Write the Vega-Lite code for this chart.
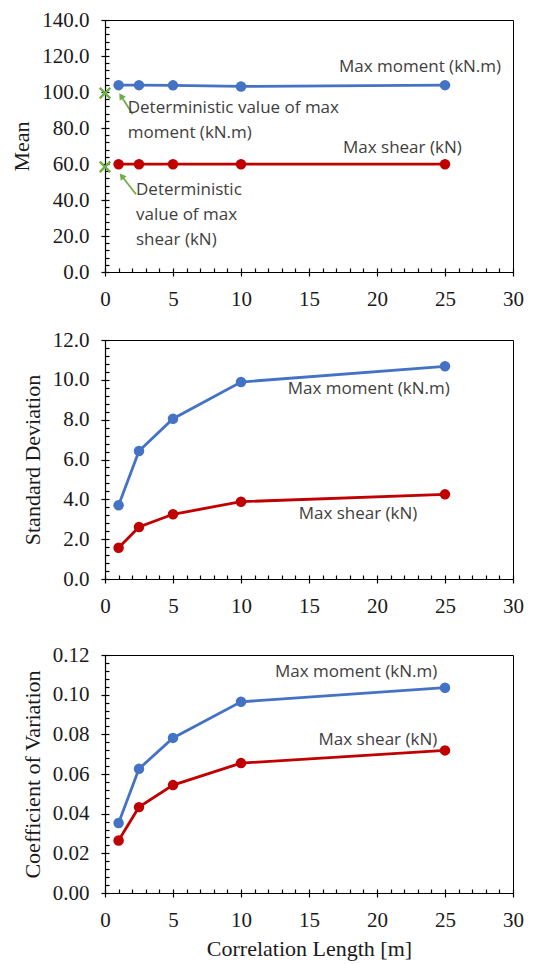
{
  "$schema": "https://vega.github.io/schema/vega-lite/v6.json",
  "background": "white",
  "padding": {"left": 10, "top": 8, "right": 5, "bottom": 4},
  "config": {
    "view": {"stroke": "#000000", "strokeWidth": 1},
    "axis": {
      "grid": false,
      "domainColor": "#000000",
      "domainWidth": 1.2,
      "tickColor": "#000000",
      "tickWidth": 1.2,
      "tickSize": 4,
      "labelFont": "Liberation Serif",
      "labelFontSize": 21,
      "labelColor": "#1a1a1a",
      "labelPadding": 12,
      "labelFlush": false,
      "labelOverlap": false,
      "titleFont": "Liberation Serif",
      "titleFontSize": 22,
      "titleFontWeight": "normal",
      "titleColor": "#1a1a1a",
      "titlePadding": 8
    }
  },
  "datasets": {
    "mean": [
      {"series": "Max moment (kN.m)", "length": 1, "value": 103.8},
      {"series": "Max moment (kN.m)", "length": 2.5, "value": 103.8},
      {"series": "Max moment (kN.m)", "length": 5, "value": 103.7},
      {"series": "Max moment (kN.m)", "length": 10, "value": 103.1},
      {"series": "Max moment (kN.m)", "length": 25, "value": 103.8},
      {"series": "Max shear (kN)", "length": 1, "value": 59.9},
      {"series": "Max shear (kN)", "length": 2.5, "value": 59.9},
      {"series": "Max shear (kN)", "length": 5, "value": 59.9},
      {"series": "Max shear (kN)", "length": 10, "value": 59.9},
      {"series": "Max shear (kN)", "length": 25, "value": 59.9}
    ],
    "deterministic": [
      {"series": "Max moment (kN.m)", "length": 0, "value": 99.4},
      {"series": "Max shear (kN)", "length": 0, "value": 58.4}
    ],
    "arrows": [
      {"tailX": 2.04, "tailY": 87.6, "tipX": 1.18, "tipY": 97.8, "angle": 327},
      {"tailX": 2.28, "tailY": 43.2, "tipX": 1.23, "tipY": 53.3, "angle": 322}
    ],
    "meanLabels": [
      {"x": 17.2, "y": 114, "text": "Max moment (kN.m)"},
      {"x": 17.5, "y": 69, "text": "Max shear (kN)"},
      {"x": 1.67, "y": 90.9, "text": "Deterministic value of max"},
      {"x": 1.67, "y": 77, "text": "moment (kN.m)"},
      {"x": 2.28, "y": 45.6, "text": "Deterministic"},
      {"x": 2.28, "y": 31.7, "text": "value of max"},
      {"x": 2.28, "y": 17.8, "text": "shear (kN)"}
    ],
    "sd": [
      {"series": "Max moment (kN.m)", "length": 1, "value": 3.70},
      {"series": "Max moment (kN.m)", "length": 2.5, "value": 6.43},
      {"series": "Max moment (kN.m)", "length": 5, "value": 8.05},
      {"series": "Max moment (kN.m)", "length": 10, "value": 9.89},
      {"series": "Max moment (kN.m)", "length": 25, "value": 10.68},
      {"series": "Max shear (kN)", "length": 1, "value": 1.57},
      {"series": "Max shear (kN)", "length": 2.5, "value": 2.61},
      {"series": "Max shear (kN)", "length": 5, "value": 3.25},
      {"series": "Max shear (kN)", "length": 10, "value": 3.88},
      {"series": "Max shear (kN)", "length": 25, "value": 4.25}
    ],
    "sdLabels": [
      {"x": 13.43, "y": 9.55, "text": "Max moment (kN.m)"},
      {"x": 14.24, "y": 3.25, "text": "Max shear (kN)"}
    ],
    "cov": [
      {"series": "Max moment (kN.m)", "length": 1, "value": 0.0353},
      {"series": "Max moment (kN.m)", "length": 2.5, "value": 0.0626},
      {"series": "Max moment (kN.m)", "length": 5, "value": 0.0782},
      {"series": "Max moment (kN.m)", "length": 10, "value": 0.0964},
      {"series": "Max moment (kN.m)", "length": 25, "value": 0.1035},
      {"series": "Max shear (kN)", "length": 1, "value": 0.0265},
      {"series": "Max shear (kN)", "length": 2.5, "value": 0.0433},
      {"series": "Max shear (kN)", "length": 5, "value": 0.0544},
      {"series": "Max shear (kN)", "length": 10, "value": 0.0655},
      {"series": "Max shear (kN)", "length": 25, "value": 0.0719}
    ],
    "covLabels": [
      {"x": 12.5, "y": 0.1114, "text": "Max moment (kN.m)"},
      {"x": 15.7, "y": 0.0769, "text": "Max shear (kN)"}
    ]
  },
  "spacing": 26,
  "vconcat": [
    {
      "spacing": 18,
      "vconcat": [
        {
          "width": 408,
          "height": 252,
          "resolve": {"axis": {"x": "independent", "y": "independent"}},
          "layer": [
            {
              "data": {"name": "mean"},
              "mark": {"type": "line", "strokeWidth": 2.8},
              "encoding": {
                "x": {"field": "length", "type": "quantitative", "scale": {"domain": [0, 30], "nice": false},
                      "axis": {"orient": "bottom", "values": [0, 5, 10, 15, 20, 25, 30], "title": null,
                               "labelFont": "Liberation Serif", "labelFontSize": 21}},
                "y": {"field": "value", "type": "quantitative", "scale": {"domain": [0, 140], "nice": false},
                      "axis": {"orient": "left", "values": [0, 20, 40, 60, 80, 100, 120, 140], "format": ".1f", "title": "Mean",
                               "labelFont": "Liberation Serif", "labelFontSize": 21}},
                "color": {"field": "series", "type": "nominal",
                          "scale": {"domain": ["Max moment (kN.m)", "Max shear (kN)"], "range": ["#4472C4", "#C00000"]},
                          "legend": null}
              }
            },
            {
              "data": {"name": "mean"},
              "mark": {"type": "point", "shape": "circle", "filled": true, "size": 110, "opacity": 1},
              "encoding": {
                "x": {"field": "length", "type": "quantitative", "axis": null},
                "y": {"field": "value", "type": "quantitative", "axis": null},
                "color": {"field": "series", "type": "nominal", "legend": null}
              }
            },
            {
              "data": {"name": "deterministic"},
              "mark": {"type": "point", "shape": "M-1,-1L1,1M1,-1L-1,1", "filled": false, "size": 110, "strokeWidth": 2.4, "color": "#70AD47", "opacity": 1},
              "encoding": {
                "x": {"field": "length", "type": "quantitative", "axis": null},
                "y": {"field": "value", "type": "quantitative", "axis": null}
              }
            },
            {
              "data": {"name": "arrows"},
              "mark": {"type": "rule", "color": "#70AD47", "strokeWidth": 1.8},
              "encoding": {
                "x": {"field": "tailX", "type": "quantitative", "axis": null},
                "y": {"field": "tailY", "type": "quantitative", "axis": null},
                "x2": {"field": "tipX"},
                "y2": {"field": "tipY"}
              }
            },
            {
              "data": {"name": "arrows"},
              "mark": {"type": "point", "shape": "triangle-up", "filled": true, "size": 55, "color": "#70AD47", "opacity": 1},
              "encoding": {
                "x": {"field": "tipX", "type": "quantitative", "axis": null},
                "y": {"field": "tipY", "type": "quantitative", "axis": null},
                "angle": {"field": "angle", "type": "quantitative", "scale": null}
              }
            },
            {
              "data": {"name": "meanLabels"},
              "mark": {"type": "text", "align": "left", "baseline": "middle", "font": "Open Sans", "fontSize": 17, "color": "#404040"},
              "encoding": {
                "x": {"field": "x", "type": "quantitative",
                      "axis": {"orient": "bottom", "values": [0,1,2,3,4,5,6,7,8,9,10,11,12,13,14,15,16,17,18,19,20,21,22,23,24,25,26,27,28,29,30],
                               "tickSize": -4, "labels": false, "domain": false, "title": null}},
                "y": {"field": "y", "type": "quantitative",
                      "axis": {"orient": "left", "values": [0,4,8,12,16,20,24,28,32,36,40,44,48,52,56,60,64,68,72,76,80,84,88,92,96,100,104,108,112,116,120,124,128,132,136,140],
                               "tickSize": -4, "labels": false, "domain": false, "title": null}},
                "text": {"field": "text", "type": "nominal"}
              }
            }
          ]
        },
        {
          "width": 408,
          "height": 239,
          "resolve": {"axis": {"x": "independent", "y": "independent"}},
          "layer": [
            {
              "data": {"name": "sd"},
              "mark": {"type": "line", "strokeWidth": 2.8},
              "encoding": {
                "x": {"field": "length", "type": "quantitative", "scale": {"domain": [0, 30], "nice": false},
                      "axis": {"orient": "bottom", "values": [0, 5, 10, 15, 20, 25, 30], "title": null,
                               "labelFont": "Liberation Serif", "labelFontSize": 21}},
                "y": {"field": "value", "type": "quantitative", "scale": {"domain": [0, 12], "nice": false},
                      "axis": {"orient": "left", "values": [0, 2, 4, 6, 8, 10, 12], "format": ".1f", "title": "Standard Deviation",
                               "labelFont": "Liberation Serif", "labelFontSize": 21}},
                "color": {"field": "series", "type": "nominal",
                          "scale": {"domain": ["Max moment (kN.m)", "Max shear (kN)"], "range": ["#4472C4", "#C00000"]},
                          "legend": null}
              }
            },
            {
              "data": {"name": "sd"},
              "mark": {"type": "point", "shape": "circle", "filled": true, "size": 110, "opacity": 1},
              "encoding": {
                "x": {"field": "length", "type": "quantitative", "axis": null},
                "y": {"field": "value", "type": "quantitative", "axis": null},
                "color": {"field": "series", "type": "nominal", "legend": null}
              }
            },
            {
              "data": {"name": "sdLabels"},
              "mark": {"type": "text", "align": "left", "baseline": "middle", "font": "Open Sans", "fontSize": 17, "color": "#404040"},
              "encoding": {
                "x": {"field": "x", "type": "quantitative",
                      "axis": {"orient": "bottom", "values": [0,1,2,3,4,5,6,7,8,9,10,11,12,13,14,15,16,17,18,19,20,21,22,23,24,25,26,27,28,29,30],
                               "tickSize": -4, "labels": false, "domain": false, "title": null}},
                "y": {"field": "y", "type": "quantitative",
                      "axis": {"orient": "left", "values": [0,0.4,0.8,1.2,1.6,2,2.4,2.8,3.2,3.6,4,4.4,4.8,5.2,5.6,6,6.4,6.8,7.2,7.6,8,8.4,8.8,9.2,9.6,10,10.4,10.8,11.2,11.6,12],
                               "tickSize": -4, "labels": false, "domain": false, "title": null}},
                "text": {"field": "text", "type": "nominal"}
              }
            }
          ]
        }
      ]
    },
    {
      "width": 408,
      "height": 238,
      "resolve": {"axis": {"x": "independent", "y": "independent"}},
      "layer": [
        {
          "data": {"name": "cov"},
          "mark": {"type": "line", "strokeWidth": 2.8},
          "encoding": {
            "x": {"field": "length", "type": "quantitative", "scale": {"domain": [0, 30], "nice": false},
                  "axis": {"orient": "bottom", "values": [0, 5, 10, 15, 20, 25, 30], "title": "Correlation Length [m]",
                           "labelFont": "Liberation Serif", "labelFontSize": 21}},
            "y": {"field": "value", "type": "quantitative", "scale": {"domain": [0, 0.12], "nice": false},
                  "axis": {"orient": "left", "values": [0, 0.02, 0.04, 0.06, 0.08, 0.1, 0.12], "format": ".2f", "title": "Coefficient of Variation",
                           "labelFont": "Liberation Serif", "labelFontSize": 21}},
            "color": {"field": "series", "type": "nominal",
                      "scale": {"domain": ["Max moment (kN.m)", "Max shear (kN)"], "range": ["#4472C4", "#C00000"]},
                      "legend": null}
          }
        },
        {
          "data": {"name": "cov"},
          "mark": {"type": "point", "shape": "circle", "filled": true, "size": 110, "opacity": 1},
          "encoding": {
            "x": {"field": "length", "type": "quantitative", "axis": null},
            "y": {"field": "value", "type": "quantitative", "axis": null},
            "color": {"field": "series", "type": "nominal", "legend": null}
          }
        },
        {
          "data": {"name": "covLabels"},
          "mark": {"type": "text", "align": "left", "baseline": "middle", "font": "Open Sans", "fontSize": 17, "color": "#404040"},
          "encoding": {
            "x": {"field": "x", "type": "quantitative",
                  "axis": {"orient": "bottom", "values": [0,1,2,3,4,5,6,7,8,9,10,11,12,13,14,15,16,17,18,19,20,21,22,23,24,25,26,27,28,29,30],
                           "tickSize": -4, "labels": false, "domain": false, "title": null}},
            "y": {"field": "y", "type": "quantitative",
                  "axis": {"orient": "left", "values": [0,0.004,0.008,0.012,0.016,0.02,0.024,0.028,0.032,0.036,0.04,0.044,0.048,0.052,0.056,0.06,0.064,0.068,0.072,0.076,0.08,0.084,0.088,0.092,0.096,0.1,0.104,0.108,0.112,0.116,0.12],
                           "tickSize": -4, "labels": false, "domain": false, "title": null}},
            "text": {"field": "text", "type": "nominal"}
          }
        }
      ]
    }
  ]
}
